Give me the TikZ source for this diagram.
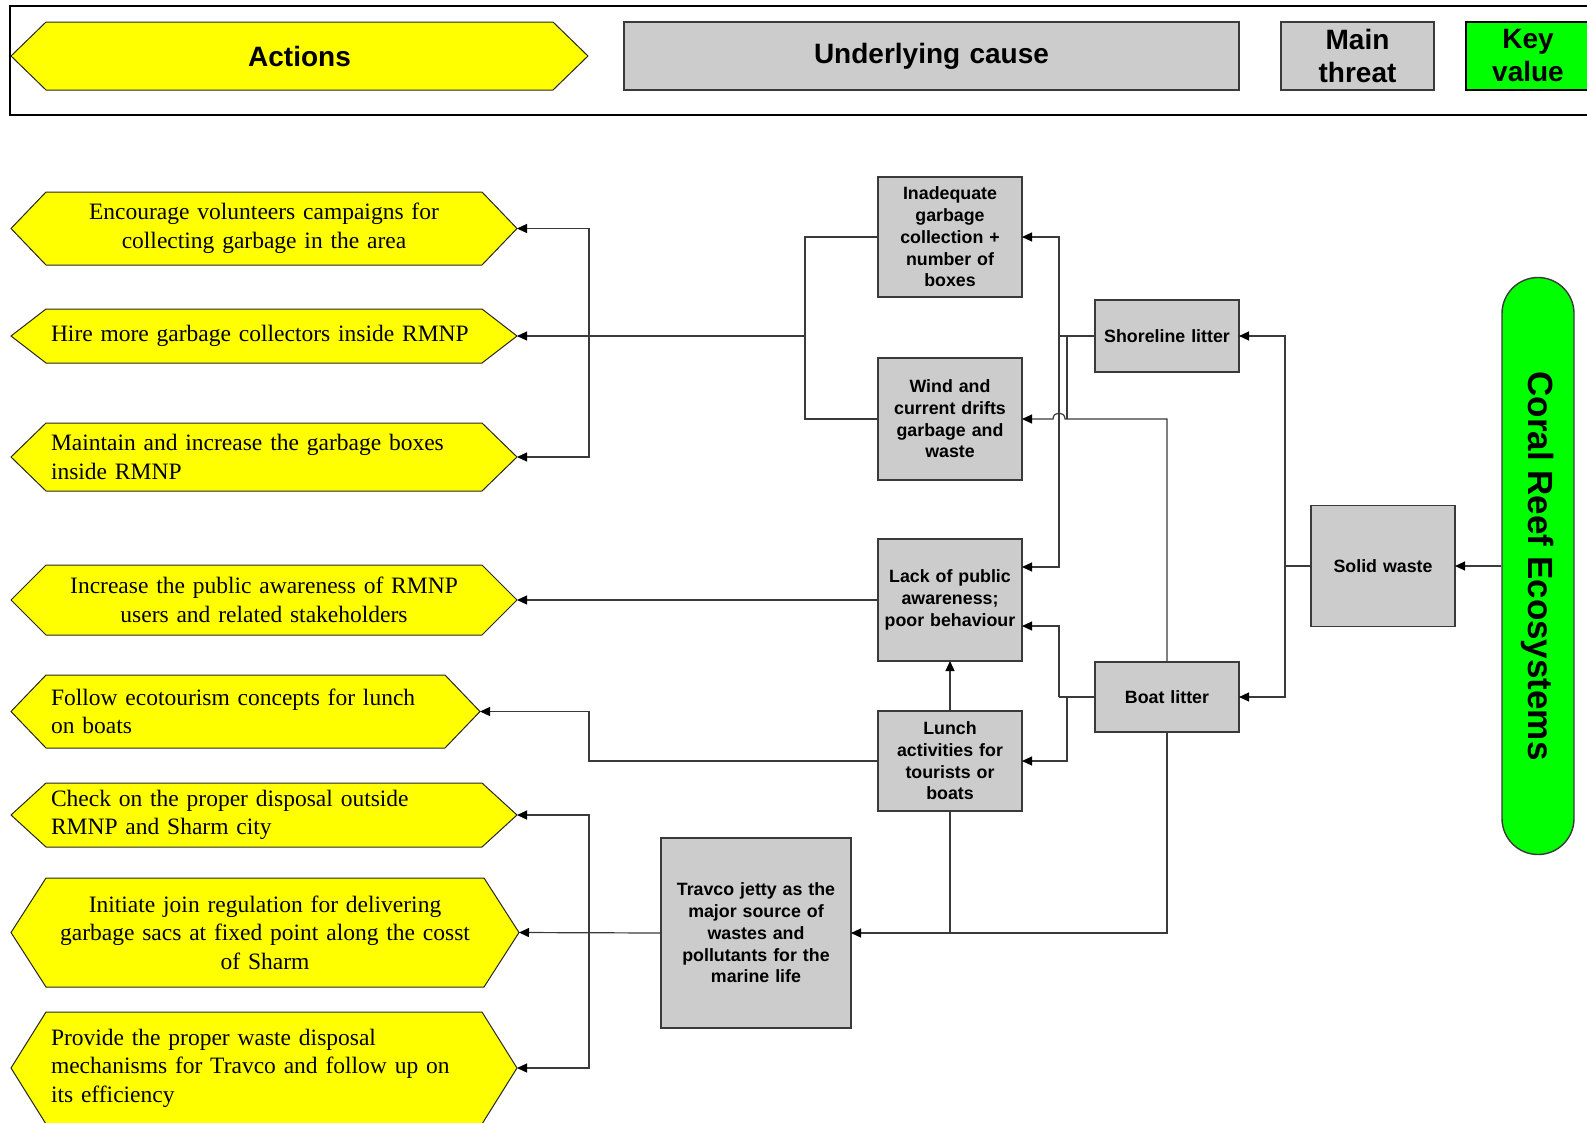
\documentclass[tikz,border=0pt]{standalone}
\usepackage{fontspec}
\usepackage{graphicx}
\setmainfont{Liberation Serif}
\setsansfont{Liberation Sans}
\usetikzlibrary{arrows.meta,calc}
\pgfdeclarelayer{bg}
\pgfsetlayers{bg,main}
\definecolor{hexfill}{HTML}{FFFF00}
\definecolor{boxfill}{HTML}{CCCCCC}
\definecolor{keyfill}{HTML}{00FF00}
\definecolor{edge}{HTML}{3A3A3A}
\tikzset{
  act/.style={inner ysep=0pt, outer sep=0pt, font=\fontsize{23.5}{28.6}\selectfont},
  actl/.style={act, inner xsep=40pt, align=left},
  actc/.style={act, inner xsep=20pt, align=center},
  hexshape/.style={fill=hexfill, draw=black!85, line width=1pt},
  box/.style={draw=edge, fill=boxfill, line width=1.4pt, outer sep=0pt, inner sep=2pt,
    align=center, text width=140pt, minimum width=144pt,
    font=\sffamily\bfseries\fontsize{17.8}{21.7}\selectfont},
  legendtext/.style={font=\sffamily\bfseries\fontsize{28}{33}\selectfont},
  conn/.style={draw=edge, line width=1.2pt},
  arr/.style={conn, -{Triangle[length=10pt,width=9pt,color=black]}},
}
% yellow hexagon behind an action node (tips at west and east anchors)
\newcommand\hexfor[1]{%
  \begin{pgfonlayer}{bg}
    \draw[hexshape] (#1.west) -- ([xshift=35pt]#1.north west) -- ([xshift=-35pt]#1.north east)
      -- (#1.east) -- ([xshift=-35pt]#1.south east) -- ([xshift=35pt]#1.south west) -- cycle;
  \end{pgfonlayer}}
\begin{document}
\begin{tikzpicture}[x=1pt,y=-1pt]
\useasboundingbox (0,0) rectangle (1587,1122);
\clip (0,0) rectangle (1587,1122);

% ---- legend bar ----
\draw[line width=2.5pt] (10,6) rectangle (1640,115);
\node[act, inner xsep=0pt, minimum width=577pt, minimum height=68pt, legendtext] (legAct) at (299.5,56) {Actions};
\hexfor{legAct}
\node[box, legendtext, text width=600pt, minimum width=615pt, minimum height=68pt] (legCause) at (931.5,56) {Underlying cause};
\node[box, legendtext, text width=140pt, minimum width=153pt, minimum height=68pt] (legThreat) at (1357.5,56) {Main\\threat};
\node[box, legendtext, fill=keyfill, draw=black, text width=118pt, minimum width=124pt, minimum height=68pt] (legKey) at (1528,56) {Key\\value};

% ---- actions ----
\node[actc, minimum width=506pt, minimum height=73pt, text width=466pt] (A1) at (264,228.5)
  {Encourage volunteers campaigns for\\collecting garbage in the area};
\node[actl, minimum width=506pt, minimum height=54pt, text width=426pt] (A2) at (264,336)
  {\mbox{Hire more garbage collectors inside RMNP}};
\node[actl, minimum width=506pt, minimum height=68pt, text width=426pt] (A3) at (264,457)
  {Maintain and increase the garbage boxes\\inside RMNP};
\node[actc, minimum width=506pt, minimum height=70pt, text width=466pt] (A4) at (264,600)
  {Increase the public awareness of RMNP\\users and related stakeholders};
\node[actl, minimum width=469pt, minimum height=73pt, text width=389pt] (A5) at (245.5,711.5)
  {Follow ecotourism concepts for lunch\\on boats};
\node[actl, minimum width=506pt, minimum height=64pt, text width=426pt] (A6) at (264,815)
  {Check on the proper disposal outside\\RMNP and Sharm city};
\node[actc, minimum width=508pt, minimum height=109pt, text width=468pt] (A7) at (265,932.5)
  {Initiate join regulation for delivering\\garbage sacs at fixed point along the cosst\\of Sharm};
\node[actl, minimum width=506pt, minimum height=112pt, text width=426pt] (A8) at (264,1068)
  {Provide the proper waste disposal\\mechanisms for Travco and follow up on\\its efficiency};
\foreach \n in {A1,A2,A3,A4,A5,A6,A7,A8} {\hexfor{\n}}

% ---- causes and threats ----
\node[box, minimum height=120pt] (B1) at (950,237) {Inadequate\\garbage\\collection +\\number of\\boxes};
\node[box, minimum height=122pt] (B2) at (950,419) {Wind and\\current drifts\\garbage and\\waste};
\node[box, minimum height=122pt] (B3) at (950,600) {Lack of public\\awareness;\\poor behaviour};
\node[box, minimum height=100pt] (B4) at (950,761) {Lunch\\activities for\\tourists or\\boats};
\node[box, minimum height=72pt] (S1) at (1167,336) {Shoreline litter};
\node[box, minimum height=70pt] (S2) at (1167,697) {Boat litter};
\node[box, minimum height=121pt] (M) at (1383,566) {Solid waste};
\node[box, text width=184pt, minimum width=190pt, minimum height=190pt] (T) at (756,933)
  {Travco jetty as the\\major source of\\wastes and\\pollutants for the\\marine life};
\node[draw=edge, fill=keyfill, line width=1.4pt, rounded corners=36pt, minimum width=72pt,
  minimum height=577pt, inner sep=0pt] (CR) at (1538,566)
  {\rotatebox{-90}{\sffamily\bfseries\fontsize{35}{40}\selectfont Coral Reef Ecosystems}};

% ---- junction points ----
\coordinate (jB) at (805,336);
\coordinate (jL) at (589,336);
\coordinate (jS) at (1059,336);
\coordinate (jS2) at (1067,336);
\coordinate (jW) at (1067,419);
\coordinate (jT) at (1059,697);
\coordinate (jU) at (1067,697);
\coordinate (jM) at (1285,566);
\coordinate (B3in1) at ($(B3.east)+(0,-33)$);
\coordinate (B3in2) at ($(B3.east)+(0,26)$);
\coordinate (jumpR) at (1065,419);
\coordinate (jumpL) at (1053,419);

% ---- connectors ----
\draw[conn] (B1.west) -| (jB) |- (B2.west);
\draw[arr] (jB) -- (A2.east);
\draw[arr] (jL) |- (A1.east);
\draw[arr] (jL) |- (A3.east);

\draw[conn] (S1.west) -- (jS);
\draw[arr] (jS) |- (B1.east);
\draw[arr] (jS) |- (B3in1);
\draw[conn] (jS2) -- (jW);
\draw[arr] (S2.north) |- (jumpR) to[out=90,in=90,looseness=1.7] (jumpL) -- (B2.east);

\draw[conn] (S2.west) -- (jT);
\draw[arr] (jT) |- (B3in2);
\draw[arr] (jU) |- (B4.east);

\draw[conn] (M.west) -- (jM);
\draw[arr] (jM) |- (S1.east);
\draw[arr] (jM) |- (S2.east);
\draw[arr] (CR.west) -- (M.east);

\draw[arr] (B3.west) -- (A4.east);
\draw[arr] (B4.north) -- (B3.south);
\draw[arr] (B4.west) -| (jL |- A5.east) -- (A5.east);

\draw[conn] (B4.south) -- (B4.south |- T.east);
\draw[arr] (S2.south) |- (T.east);
\draw[arr] (T.west) -- (A7.east);
\draw[arr] (jL |- T.west) |- (A6.east);
\draw[arr] (jL |- T.west) |- (A8.east);
\end{tikzpicture}
\end{document}
